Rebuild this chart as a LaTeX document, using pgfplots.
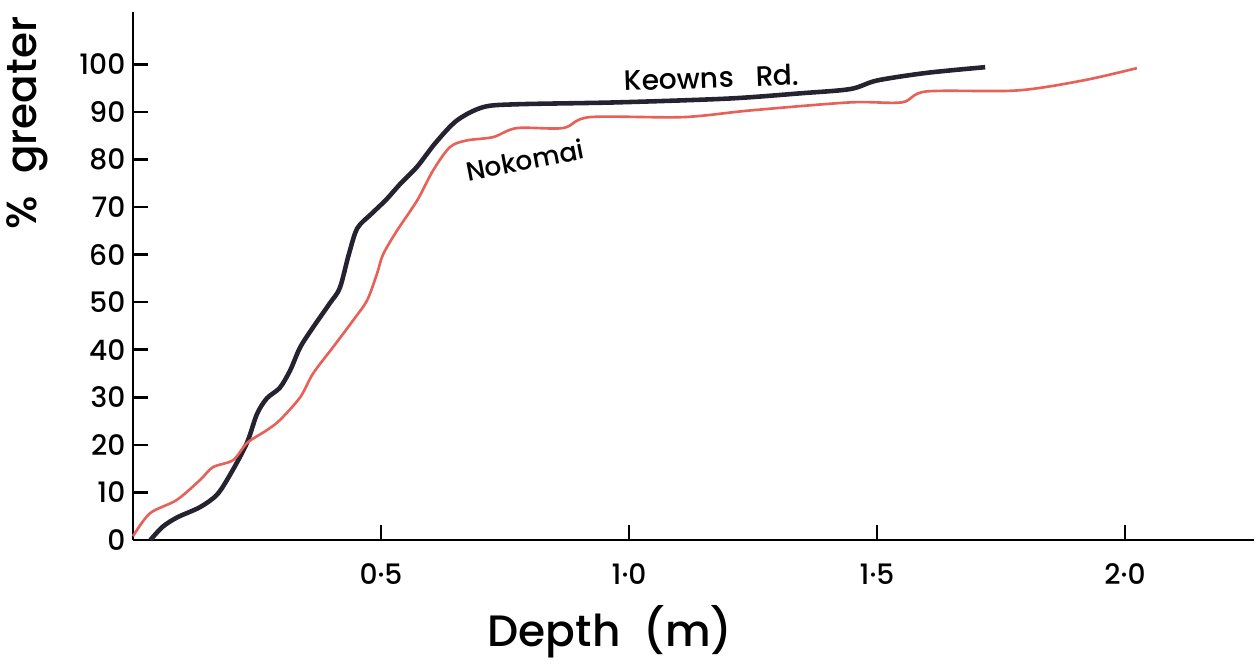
\documentclass[border=0pt]{standalone}
\usepackage{fontspec}
\setmainfont{Poppins}[UprightFont=* Medium, BoldFont=* SemiBold]
\usepackage{pgfplots}
\pgfplotsset{compat=1.18}
\definecolor{keowns}{RGB}{38,34,48}
\definecolor{noko}{RGB}{230,98,88}

\begin{document}
\begin{tikzpicture}
% page frame, 1px = 0.02cm, axis origin at (0,0)
\path[use as bounding box] (-2.66cm,-2.48cm) rectangle (22.46cm,10.8cm);
\begin{axis}[
    scale only axis,
    width=22.42cm, height=10.56cm,
    xmin=0, xmax=2.26,
    ymin=0, ymax=111,
    axis lines=left,
    axis line style={-, line width=1.6pt},
    tick align=inside,
    major tick length=0.3cm,
    tick style={line width=1.4pt, black},
    xtick={0.5,1,1.5,2},
    xticklabels={0·5,1·0,1·5,2·0},
    ytick={0,10,...,100},
    /pgf/number format/assume math mode=true,
    ticklabel style={font=\fontsize{16}{18}\selectfont},
    xticklabel style={yshift=-0.35cm},
    yticklabel style={xshift=-0.03cm},
    xlabel={Depth\ \ (m)},
    xlabel style={font=\fontsize{25}{30}\selectfont, at={(axis description cs:0.4255,-0.174)}, anchor=center},
    ylabel={\%\ \ greater},
    ylabel style={font=\fontsize{24}{28}\selectfont, at={(axis description cs:-0.094,0.79)}, anchor=center, rotate=0},
    clip=false,
]
% Keowns Rd.
\addplot[keowns, line width=2.6pt, smooth, tension=0.5] coordinates {
 (0.035,0) (0.06,2.8) (0.09,4.8) (0.135,6.9) (0.17,9.6) (0.20,14.5) (0.23,20.5)
 (0.25,26.5) (0.27,29.8) (0.296,32) (0.317,35.7) (0.337,40.5) (0.363,44.7)
 (0.397,49.8) (0.417,53) (0.435,60) (0.452,65.5) (0.48,68.5) (0.51,71.5)
 (0.54,75) (0.573,78.5) (0.61,83.5) (0.653,88.2) (0.706,91) (0.774,91.6)
 (0.976,92) (1.2,92.8) (1.345,93.9) (1.446,94.8) (1.5,96.6) (1.6,98.2) (1.718,99.4)
};
% Nokomai
\addplot[noko, line width=1.5pt, smooth, tension=0.5] coordinates {
 (0,0.8) (0.034,5.6) (0.088,8.4) (0.135,12.6) (0.161,15.3) (0.202,16.8)
 (0.23,20.4) (0.27,23.1) (0.296,25.2) (0.337,30) (0.363,35) (0.403,40.5)
 (0.444,46.2) (0.472,50.4) (0.492,56) (0.504,60) (0.532,65) (0.573,71.4)
 (0.605,77.7) (0.639,82.6) (0.673,84) (0.726,84.7) (0.774,86.6) (0.867,86.6)
 (0.921,88.9) (1.109,88.9) (1.244,90.3) (1.446,92) (1.55,92) (1.60,94.3)
 (1.782,94.5) (1.915,96.6) (2.024,99.2)
};
\node[font=\fontsize{16}{18}\selectfont, rotate=2] at (axis cs:1.167,97.2) {Keowns\ \ \ Rd.};
\node[font=\fontsize{15}{18}\selectfont, rotate=11] at (axis cs:0.79,79.9) {Nokomai};
\end{axis}
\end{tikzpicture}
\end{document}
